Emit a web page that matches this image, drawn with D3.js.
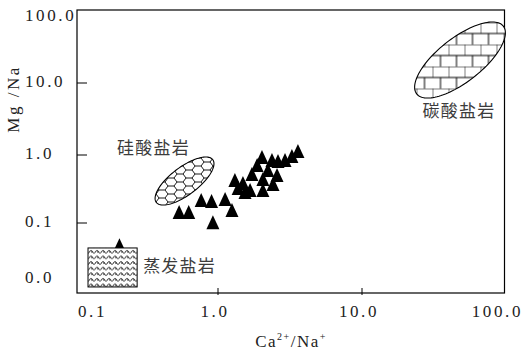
<!DOCTYPE html>
<html>
<head>
<meta charset="utf-8">
<script src="https://cdn.jsdelivr.net/npm/d3@7"></script>
<style>
  html, body { margin: 0; padding: 0; background: #fff; }
  svg { display: block; }
</style>
</head>
<body>
<svg id="chart" width="523" height="356"></svg>
<script>
// Sample ratios
const caNa = [0.20, 0.53, 0.62, 0.76, 0.90, 0.92, 1.12, 1.25, 1.31, 1.38, 1.49, 1.54, 1.67,
              1.72, 1.87, 2.02, 2.05, 2.05, 2.22, 2.37, 2.41, 2.57, 2.61, 2.92, 3.26, 3.59];
const mgNa = [0.048, 0.145, 0.145, 0.218, 0.211, 0.103, 0.225, 0.155, 0.428, 0.327, 0.387, 0.286, 0.305,
              0.526, 0.713, 0.935, 0.443, 0.305, 0.601, 0.844, 0.375, 0.508, 0.817, 0.844, 0.967, 1.14];

// Axis ticks
const xTickValues = [0.1, 1, 10, 100];
const xTickLabels = ["0.1", "1.0", "10.0", "100.0"];
const yTickValues = [0.01, 0.1, 1, 10, 100];
const yTickLabels = ["0.0", "0.1", "1.0", "10.0", "100.0"];

// End-member fields (rock types) with their ratio extents
const fieldNames = ["硅酸盐岩", "碳酸盐岩", "蒸发盐岩"];
const fieldCaNa  = [[0.365, 0.918], [24.2, 98.1], [0.1197, 0.267]];
const fieldMgNa  = [[0.201, 0.853], [7.06, 60.1], [0.0122, 0.044]];

const svg = d3.select("#chart");
const W = 523, H = 356;
const plot = { left: 77, right: 504.5, top: 10, bottom: 293 };

const x = d3.scaleLog().domain(xTickValues).range([plot.left, 218, 362, plot.right]);
const y = d3.scaleLog().domain(yTickValues).range([plot.bottom, 223, 155, 83, plot.top]);

const numFont = "'Liberation Serif', 'DejaVu Serif', serif";
const cjkFont = "'Noto Sans CJK SC', 'Noto Sans CJK JP', sans-serif";

// ---- fill patterns ----
const defs = svg.append("defs");

// honeycomb for silicate field
const hexR = 6, hexH = 8;
defs.append("pattern")
  .attr("id", "hex").attr("patternUnits", "userSpaceOnUse")
  .attr("x", 3).attr("y", 2)
  .attr("width", hexR * 3).attr("height", hexH)
  .append("path")
  .attr("d", `M0,${hexH/2} L${hexR/2},0 L${hexR*1.5},0 L${hexR*2},${hexH/2} L${hexR*1.5},${hexH} L${hexR/2},${hexH} Z M${hexR*2},${hexH/2} L${hexR*3},${hexH/2}`)
  .attr("fill", "none").attr("stroke", "#000").attr("stroke-width", 0.9);

// brickwork for carbonate field
const bw = 16, bh = 11;
defs.append("pattern")
  .attr("id", "brick").attr("patternUnits", "userSpaceOnUse")
  .attr("x", 0.5).attr("y", 0.5)
  .attr("width", bw).attr("height", bh * 2)
  .append("path")
  .attr("d", `M0,0 H${bw} M0,${bh} H${bw} M0,0 V${bh} M${bw/2},${bh} V${bh*2}`)
  .attr("fill", "none").attr("stroke", "#000").attr("stroke-width", 1);

// small waves for evaporite field
const ww = 6, wh = 5.6;
defs.append("pattern")
  .attr("id", "wave").attr("patternUnits", "userSpaceOnUse")
  .attr("x", 89).attr("y", 249)
  .attr("width", ww).attr("height", wh)
  .append("path")
  .attr("d", "M0,3.6 C1,1.2 2.6,0.8 3.2,2.4 C3.5,3.4 2.4,3.6 2.6,2.6 M3.2,2.4 C4,4.2 5,4.2 6,3.6")
  .attr("fill", "none").attr("stroke", "#000").attr("stroke-width", 0.9);

// ---- frame ----
svg.append("rect")
  .attr("x", plot.left).attr("y", plot.top)
  .attr("width", plot.right - plot.left).attr("height", plot.bottom - plot.top)
  .attr("fill", "none").attr("stroke", "#000").attr("stroke-width", 1.2);

// inner ticks
svg.append("g").selectAll("line")
  .data(xTickValues.slice(1, -1)).join("line")
  .attr("x1", d => x(d)).attr("x2", d => x(d))
  .attr("y1", plot.bottom - 5).attr("y2", plot.bottom + 2)
  .attr("stroke", "#000").attr("stroke-width", 1);

svg.append("g").selectAll("line")
  .data(yTickValues.slice(1, -1)).join("line")
  .attr("x1", plot.left).attr("x2", plot.left + 10)
  .attr("y1", d => y(d)).attr("y2", d => y(d))
  .attr("stroke", "#000").attr("stroke-width", 1);

// tick labels
const xLab = svg.append("g").selectAll("text")
  .data(xTickValues).join("text")
  .attr("y", 317)
  .attr("font-family", numFont).attr("font-size", 17)
  .attr("letter-spacing", 2.6)
  .attr("fill", "#222")
  .text((d, i) => xTickLabels[i]);
xLab.each(function(d) {
  const w = this.getComputedTextLength();
  let cx = x(d) - 3 - w / 2;
  cx = Math.max(plot.left + 1, Math.min(W - w, cx));
  d3.select(this).attr("x", cx);
});

svg.append("g").selectAll("text")
  .data(yTickValues).join("text")
  .attr("x", 25)
  .attr("y", d => Math.max(15, Math.min(277, y(d) - 2)))
  .attr("dy", "0.35em")
  .attr("font-family", numFont).attr("font-size", 17)
  .attr("letter-spacing", 2.6)
  .attr("fill", "#222")
  .text((d, i) => yTickLabels[i]);

// axis titles
svg.append("text")
  .attr("transform", "translate(19,99) rotate(-90)")
  .attr("text-anchor", "middle")
  .attr("font-family", numFont).attr("font-size", 17)
  .attr("letter-spacing", 2.5)
  .attr("fill", "#222")
  .text("Mg /Na");

const xt = svg.append("text")
  .attr("x", 291).attr("y", 347)
  .attr("text-anchor", "middle")
  .attr("font-family", numFont).attr("font-size", 17)
  .attr("letter-spacing", 1.5)
  .attr("fill", "#222");
xt.append("tspan").text("Ca");
xt.append("tspan").attr("font-size", 10).attr("dy", -7).text("2+");
xt.append("tspan").attr("dy", 7).text("/Na");
xt.append("tspan").attr("font-size", 10).attr("dy", -7).text("+");

// ---- samples ----
const tri = "M0,-7 L6.5,7 L-6.5,7 Z";
svg.append("g").selectAll("path")
  .data(d3.range(caNa.length)).join("path")
  .attr("d", tri)
  .attr("transform", i => `translate(${x(caNa[i])},${y(mgNa[i])})`)
  .attr("fill", "#000");

// ---- rock-type fields ----
// tilted ellipse built from the two ends of its long axis, traced in page
// coordinates so the fill pattern stays upright
const closedLine = d3.line().curve(d3.curveLinearClosed);
function fieldEllipse(i, halfMinor, pattern) {
  const x1 = x(fieldCaNa[i][0]), y1 = y(fieldMgNa[i][0]);
  const x2 = x(fieldCaNa[i][1]), y2 = y(fieldMgNa[i][1]);
  const cx = (x1 + x2) / 2, cy = (y1 + y2) / 2;
  const a = Math.hypot(x2 - x1, y2 - y1) / 2;
  const phi = Math.atan2(y2 - y1, x2 - x1);
  const pts = d3.range(0, 2 * Math.PI, Math.PI / 60).map(t => [
    cx + a * Math.cos(t) * Math.cos(phi) - halfMinor * Math.sin(t) * Math.sin(phi),
    cy + a * Math.cos(t) * Math.sin(phi) + halfMinor * Math.sin(t) * Math.cos(phi)
  ]);
  const d = closedLine(pts);
  svg.append("path").attr("d", d).attr("fill", "#fff");
  svg.append("path").attr("d", d)
    .attr("fill", `url(#${pattern})`).attr("stroke", "#000").attr("stroke-width", 1.1);
  return { cx, cy };
}

const sil = fieldEllipse(0, 13.8, "hex");
const carb = fieldEllipse(1, 22, "brick");

// evaporite box
const ex0 = x(fieldCaNa[2][0]), ex1 = x(fieldCaNa[2][1]);
const ey0 = y(fieldMgNa[2][1]), ey1 = y(fieldMgNa[2][0]);
svg.append("rect")
  .attr("x", ex0).attr("y", ey0).attr("width", ex1 - ex0).attr("height", ey1 - ey0)
  .attr("fill", "#fff");
svg.append("rect")
  .attr("x", ex0).attr("y", ey0).attr("width", ex1 - ex0).attr("height", ey1 - ey0)
  .attr("fill", "url(#wave)").attr("stroke", "#000").attr("stroke-width", 1);

// field labels
const labelStyle = sel => sel
  .attr("font-family", cjkFont).attr("font-size", 17)
  .attr("letter-spacing", 1.2).attr("fill", "#3c3c3c");

svg.append("text").call(labelStyle)
  .attr("x", sil.cx - 31).attr("y", sil.cy - 27)
  .attr("text-anchor", "middle").text(fieldNames[0]);
svg.append("text").call(labelStyle)
  .attr("x", carb.cx - 1).attr("y", carb.cy + 57)
  .attr("text-anchor", "middle").text(fieldNames[1]);
svg.append("text").call(labelStyle)
  .attr("x", ex1 + 6).attr("y", (ey0 + ey1) / 2 + 5)
  .attr("text-anchor", "start").text(fieldNames[2]);
</script>
</body>
</html>
